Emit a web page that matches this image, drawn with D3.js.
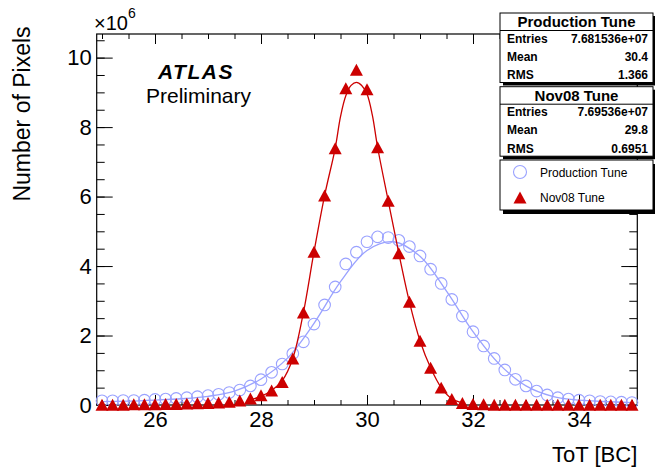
<!DOCTYPE html>
<html>
<head>
<meta charset="utf-8">
<script src="https://cdn.jsdelivr.net/npm/d3@7"></script>
<style>
  html, body { margin: 0; padding: 0; background: #fff; }
  svg { display: block; font-family: "Liberation Sans", Arial, Helvetica, sans-serif; }
</style>
</head>
<body>
<svg id="chart"></svg>
<script>
// ─── Data (values in units of 10^6 pixels) ───────────────────────────────
const binCenters = [25.0, 25.2, 25.4, 25.6, 25.8, 26.0, 26.2, 26.4, 26.6, 26.8,
                    27.0, 27.2, 27.4, 27.6, 27.8, 28.0, 28.2, 28.4, 28.6, 28.8,
                    29.0, 29.2, 29.4, 29.6, 29.8, 30.0, 30.2, 30.4, 30.6, 30.8,
                    31.0, 31.2, 31.4, 31.6, 31.8, 32.0, 32.2, 32.4, 32.6, 32.8,
                    33.0, 33.2, 33.4, 33.6, 33.8, 34.0, 34.2, 34.4, 34.6, 34.8, 35.0];

const productionTune = [0.12, 0.12, 0.13, 0.13, 0.14, 0.16, 0.17, 0.19, 0.21, 0.24,
                        0.27, 0.31, 0.36, 0.43, 0.55, 0.73, 0.94, 1.18, 1.48, 1.82,
                        2.33, 2.88, 3.40, 4.06, 4.40, 4.70, 4.84, 4.82, 4.74, 4.56,
                        4.29, 3.91, 3.50, 3.04, 2.56, 2.11, 1.70, 1.34, 1.01, 0.74,
                        0.55, 0.40, 0.29, 0.21, 0.17, 0.14, 0.12, 0.10, 0.09, 0.08, 0.07];

const nov08Tune = [0.01, 0.01, 0.01, 0.02, 0.02, 0.02, 0.03, 0.03, 0.04, 0.05,
                   0.06, 0.07, 0.09, 0.13, 0.19, 0.28, 0.42, 0.66, 1.34, 2.66,
                   4.41, 6.03, 7.39, 9.12, 9.65, 9.09, 7.42, 5.88, 4.37, 2.97,
                   1.85, 1.07, 0.50, 0.17, 0.06, 0.03, 0.02, 0.01, 0.01, 0.01,
                   0.01, 0.01, 0.01, 0.01, 0.01, 0.01, 0.01, 0.01, 0.01, 0.01, 0.01];

// fit curves
const prodFitX = [25.0, 25.5, 26.0, 26.5, 27.0, 27.5, 28.0, 28.5, 29.0, 29.5, 30.0,
                  30.5, 31.0, 31.5, 32.0, 32.5, 33.0, 33.5, 34.0, 34.5, 35.0];
const prodFitY = [0.10, 0.11, 0.14, 0.18, 0.25, 0.40, 0.75, 1.35, 2.35, 3.55, 4.45,
                  4.70, 4.28, 3.28, 2.11, 1.17, 0.55, 0.25, 0.14, 0.10, 0.07];

const novFitX = [27.8, 28.0, 28.2, 28.4, 28.6, 28.8, 29.0, 29.2, 29.4, 29.5, 29.6, 29.7,
                 29.8, 29.9, 30.0, 30.1, 30.2, 30.4, 30.6, 30.8, 31.0, 31.2, 31.4, 31.6, 31.8];
const novFitY = [0.15, 0.25, 0.42, 0.70, 1.34, 2.66, 4.41, 6.03, 7.39, 8.30, 8.90, 9.20,
                 9.29, 9.20, 8.95, 8.35, 7.42, 5.88, 4.37, 2.97, 1.85, 1.07, 0.50, 0.18, 0.06];

const xMajorTicks = [26, 28, 30, 32, 34];
const yMajorTicks = [0, 2, 4, 6, 8, 10];

const statsBoxes = [
  { title: "Production Tune", rows: [["Entries", "7.681536e+07"], ["Mean", "30.4"], ["RMS", "1.366"]] },
  { title: "Nov08 Tune",      rows: [["Entries", "7.69536e+07"],  ["Mean", "29.8"], ["RMS", "0.6951"]] },
];

// ─── Layout ──────────────────────────────────────────────────────────────
const W = 655, H = 468;
const X0 = 96.7, X1 = 637.3, Y0 = 34, Y1 = 405;
const BLUE = "#9aa2ff";
const RED = "#cc0000";

const svg = d3.select("#chart").attr("width", W).attr("height", H);
svg.append("rect").attr("width", W).attr("height", H).attr("fill", "#fff");

const x = d3.scaleLinear().domain([24.9, 35.1]).range([X0, X1]);
const y = d3.scaleLinear().domain([0, 10.68]).range([Y1, Y0]);

// ─── Axes ────────────────────────────────────────────────────────────────
const xMinor = d3.range(25, 35.01, 0.5);
const yMinor = d3.range(0, 10.51, 0.5);

function styleAxis(g) {
  g.select(".domain").remove();
  g.selectAll("line").attr("stroke", "#000").attr("stroke-width", 1);
  g.selectAll("text").attr("fill", "#000").attr("font-size", "22px");
}

// bottom
svg.append("g").attr("transform", `translate(0,${Y1})`)
  .call(d3.axisBottom(x).tickValues(xMinor).tickSize(-5).tickFormat(""))
  .call(styleAxis);
svg.append("g").attr("transform", `translate(0,${Y1})`)
  .call(d3.axisBottom(x).tickValues(xMajorTicks).tickSize(-10).tickPadding(6).tickFormat(d3.format("d")))
  .call(styleAxis);
// top
svg.append("g").attr("transform", `translate(0,${Y0})`)
  .call(d3.axisTop(x).tickValues(xMinor).tickSize(-5).tickFormat(""))
  .call(styleAxis);
svg.append("g").attr("transform", `translate(0,${Y0})`)
  .call(d3.axisTop(x).tickValues(xMajorTicks).tickSize(-10).tickFormat(""))
  .call(styleAxis);
// left
svg.append("g").attr("transform", `translate(${X0},0)`)
  .call(d3.axisLeft(y).tickValues(yMinor).tickSize(-8).tickFormat(""))
  .call(styleAxis);
svg.append("g").attr("transform", `translate(${X0},0)`)
  .call(d3.axisLeft(y).tickValues(yMajorTicks).tickSize(-16).tickPadding(5).tickFormat(d3.format("d")))
  .call(styleAxis);
// right
svg.append("g").attr("transform", `translate(${X1},0)`)
  .call(d3.axisRight(y).tickValues(yMinor).tickSize(-8).tickFormat(""))
  .call(styleAxis);
svg.append("g").attr("transform", `translate(${X1},0)`)
  .call(d3.axisRight(y).tickValues(yMajorTicks).tickSize(-16).tickFormat(""))
  .call(styleAxis);

// frame
svg.append("rect")
  .attr("x", X0).attr("y", Y0).attr("width", X1 - X0).attr("height", Y1 - Y0)
  .attr("fill", "none").attr("stroke", "#000").attr("stroke-width", 1.2);

// axis titles
svg.append("text")
  .attr("transform", "translate(30,114) rotate(-90)")
  .attr("text-anchor", "middle").attr("font-size", "23px").text("Number of Pixels");
svg.append("text")
  .attr("x", X1).attr("y", 462).attr("text-anchor", "end")
  .attr("font-size", "22px").text("ToT [BC]");

const expo = svg.append("text").attr("x", 94).attr("y", 30).attr("font-size", "20px");
expo.append("tspan").text("\u00d710");
expo.append("tspan").attr("font-size", "14px").attr("dy", -12).text("6");

// ─── Curves and markers ──────────────────────────────────────────────────
const line = d3.line()
  .x(d => x(d[0])).y(d => y(d[1]))
  .curve(d3.curveCatmullRom.alpha(0.5));

svg.append("path")
  .datum(d3.zip(prodFitX, prodFitY))
  .attr("d", line).attr("fill", "none").attr("stroke", BLUE).attr("stroke-width", 1.3);

svg.append("g").selectAll("circle")
  .data(d3.zip(binCenters, productionTune)).join("circle")
  .attr("cx", d => x(d[0])).attr("cy", d => y(d[1])).attr("r", 5.8)
  .attr("fill", "none").attr("stroke", BLUE).attr("stroke-width", 1.1);

svg.append("path")
  .datum(d3.zip(novFitX, novFitY))
  .attr("d", line).attr("fill", "none").attr("stroke", RED).attr("stroke-width", 1.3);

const tri = (cx, cy, s) => `M${cx - s},${cy + s * 0.92}L${cx + s},${cy + s * 0.92}L${cx},${cy - s * 0.92}Z`;

svg.append("g").selectAll("path")
  .data(d3.zip(binCenters, nov08Tune)).join("path")
  .attr("d", d => tri(x(d[0]), y(d[1]), 6.5))
  .attr("fill", RED);

// ─── ATLAS label ─────────────────────────────────────────────────────────
svg.append("text").attr("x", 158).attr("y", 79)
  .attr("font-size", "21px").attr("font-weight", "bold").attr("font-style", "italic")
  .attr("letter-spacing", "1.5px").text("ATLAS");
svg.append("text").attr("x", 146).attr("y", 103)
  .attr("font-size", "21px").text("Preliminary");

// ─── Stats boxes ─────────────────────────────────────────────────────────
const BX = 500, BW = 153;
const boxTops = [13, 86.7];
const BH = 69.5;

statsBoxes.forEach((b, i) => {
  const top = boxTops[i];
  const g = svg.append("g");
  g.append("rect").attr("x", BX + 3).attr("y", top + 3).attr("width", BW).attr("height", BH).attr("fill", "#000");
  g.append("rect").attr("x", BX).attr("y", top).attr("width", BW).attr("height", BH)
    .attr("fill", "#fff").attr("stroke", "#000").attr("stroke-width", 1);
  g.append("line").attr("x1", BX).attr("x2", BX + BW).attr("y1", top + 17.5).attr("y2", top + 17.5)
    .attr("stroke", "#000").attr("stroke-width", 1);
  g.append("text").attr("x", BX + BW / 2).attr("y", top + 14).attr("text-anchor", "middle")
    .attr("font-size", "15px").attr("font-weight", "bold").text(b.title);
  b.rows.forEach((r, j) => {
    const by = top + 29.5 + j * 18.2;
    g.append("text").attr("x", BX + 7).attr("y", by)
      .attr("font-size", "12px").attr("font-weight", "bold").text(r[0]);
    g.append("text").attr("x", BX + BW - 5).attr("y", by).attr("text-anchor", "end")
      .attr("font-size", "12px").attr("font-weight", "bold").text(r[1]);
  });
});

// ─── Legend ──────────────────────────────────────────────────────────────
const LT = 160, LH = 50;
svg.append("rect").attr("x", BX + 3).attr("y", LT + 4).attr("width", BW).attr("height", LH).attr("fill", "#000");
svg.append("rect").attr("x", BX).attr("y", LT).attr("width", BW).attr("height", LH)
  .attr("fill", "#fff").attr("stroke", "#000").attr("stroke-width", 1);
svg.append("circle").attr("cx", 520).attr("cy", 172).attr("r", 6.5)
  .attr("fill", "none").attr("stroke", BLUE).attr("stroke-width", 1.1);
svg.append("text").attr("x", 540).attr("y", 176.5).attr("font-size", "12px").text("Production Tune");
svg.append("path").attr("d", tri(520, 197.5, 6.5)).attr("fill", RED);
svg.append("text").attr("x", 540).attr("y", 202).attr("font-size", "12px").text("Nov08 Tune");
</script>
</body>
</html>
